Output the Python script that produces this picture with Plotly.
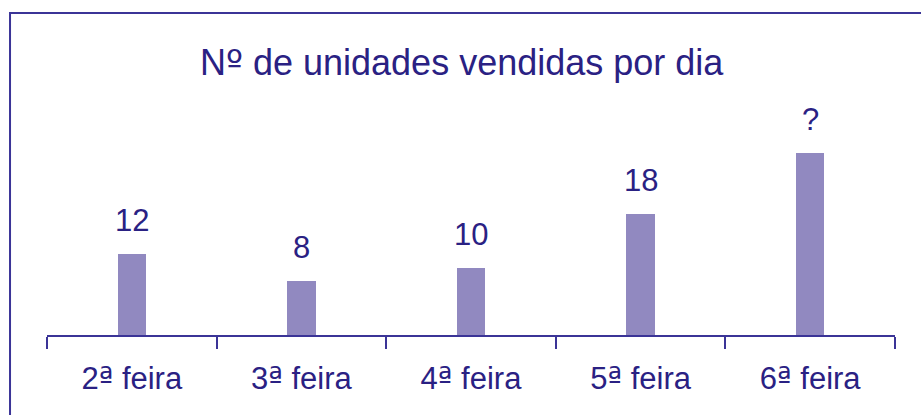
import plotly.graph_objects as go

categories = ["2ª feira", "3ª feira", "4ª feira", "5ª feira", "6ª feira"]
values = [12, 8, 10, 18, 27]
value_labels = ["12", "8", "10", "18", "?"]
title_text = "Nº de unidades vendidas por dia"

TEXT = "#2A2183"
BAR = "#9189C0"
LINE = "#3B3497"
FONT = "Liberation Sans, Arial, sans-serif"


def ordinal_markup(s):
    # render the ordinal indicators with a glyph that carries the underline bar
    for ch in ("ª", "º"):
        s = s.replace(ch, f"<span style='font-family:DejaVu Sans'>{ch}</span>")
    return s


fig = go.Figure()
fig.add_trace(go.Bar(x=categories, y=values, width=0.167,
                     marker=dict(color=BAR, line=dict(width=0)),
                     hoverinfo="skip"))

for c, v, t in zip(categories, values, value_labels):
    fig.add_annotation(x=c, y=v, text=t, showarrow=False, yanchor="bottom",
                       yshift=14, font=dict(size=31, color=TEXT, family=FONT))

fig.add_annotation(xref="paper", yref="paper", x=0.489, y=1.347,
                   text=ordinal_markup(title_text),
                   showarrow=False, xanchor="center", yanchor="middle",
                   font=dict(size=36, color=TEXT, family=FONT))

# frame
fig.add_shape(type="rect", xref="paper", yref="paper",
              x0=-0.0436, x1=1.2, y0=-0.6, y1=1.594,
              line=dict(color=LINE, width=2), fillcolor="rgba(0,0,0,0)", layer="below")

fig.update_layout(
    width=921, height=415,
    margin=dict(l=47, r=26, t=133, b=80, pad=0),
    paper_bgcolor="white", plot_bgcolor="white",
    showlegend=False,
    bargap=0,
    xaxis=dict(type="category", showline=True, linecolor=LINE, linewidth=2,
               ticks="outside", tickson="boundaries", ticklen=12, tickwidth=2,
               tickcolor=LINE, showgrid=False, zeroline=False,
               tickmode="array", tickvals=categories,
               ticktext=[ordinal_markup(c) for c in categories],
               ticklabelstandoff=15,
               tickfont=dict(size=31, color=TEXT, family=FONT),
               fixedrange=True),
    yaxis=dict(range=[0, 30], visible=False, showgrid=False, zeroline=False,
               fixedrange=True),
)

fig.write_html("out.html", config={"displayModeBar": False},
               post_script="document.body.style.margin='0';")
